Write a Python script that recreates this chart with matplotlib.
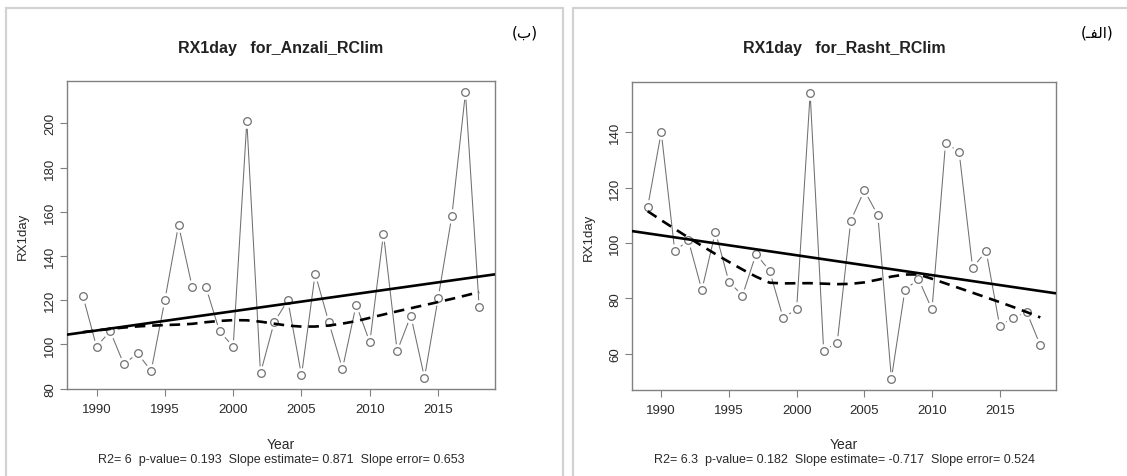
import numpy as np
import matplotlib
matplotlib.use("Agg")
import matplotlib.pyplot as plt
from matplotlib.patches import Rectangle

plt.rcParams['font.family'] = ['Liberation Sans', 'DejaVu Sans']

years = list(range(1989, 2019))
anzali = [122, 99, 106, 91, 96, 88, 120, 154, 126, 126, 106, 99, 201, 87, 110,
          120, 86, 132, 110, 89, 118, 101, 150, 97, 113, 85, 121, 158, 214, 117]
rasht = [113, 140, 97, 101, 83, 104, 86, 81, 96, 90, 73, 76, 154, 61, 64,
         108, 119, 110, 51, 83, 87, 76, 136, 133, 91, 97, 70, 73, 75, 63]

titles = ["RX1day   for_Anzali_RClim", "RX1day   for_Rasht_RClim"]
stats = ["R2= 6  p-value= 0.193  Slope estimate= 0.871  Slope error= 0.653",
         "R2= 6.3  p-value= 0.182  Slope estimate= -0.717  Slope error= 0.524"]
panel_tags = ["(\uFE8F)", "(\u0640\uFED4\uFEDF\uFE8D)"]
yticks_list = [[80, 100, 120, 140, 160, 180, 200], [60, 80, 100, 120, 140]]
xticks = [1990, 1995, 2000, 2005, 2010, 2015]


def lowess(x, y, f=2/3, niter=3):
    x = np.asarray(x, float); y = np.asarray(y, float)
    n = len(x)
    ns = max(min(int(f * n + 1e-7), n), 2)
    rng = x[-1] - x[0]
    rw = np.ones(n)
    ys = np.zeros(n)
    for it in range(niter + 1):
        nleft, nright = 0, ns - 1
        for i in range(n):
            xs = x[i]
            while nright < n - 1:
                d1 = xs - x[nleft]
                d2 = x[nright + 1] - xs
                if d1 <= d2:
                    break
                nleft += 1; nright += 1
            h = max(xs - x[nleft], x[nright] - xs)
            h9, h1 = 0.999 * h, 0.001 * h
            w = np.zeros(n)
            j = nleft
            while j < n:
                r = abs(x[j] - xs)
                if r <= h9:
                    if r <= h1:
                        w[j] = rw[j]
                    else:
                        w[j] = rw[j] * (1 - (r / h) ** 3) ** 3
                elif x[j] > xs:
                    break
                j += 1
            s = w.sum()
            if s <= 0:
                ys[i] = y[i]; continue
            w = w / s
            if h > 0:
                a = (w * x).sum()
                b = xs - a
                c = (w * (x - a) ** 2).sum()
                if np.sqrt(c) > 0.001 * rng:
                    b = b / c
                    w = w * (b * (x - a) + 1.0)
            ys[i] = (w * y).sum()
        if it == niter:
            break
        res = y - ys
        cmad = 6 * np.median(np.abs(res))
        if cmad < 1e-7 * np.mean(np.abs(res)):
            break
        r = np.abs(res)
        rw = np.where(r <= 0.001 * cmad, 1.0,
                      np.where(r <= 0.999 * cmad, (1 - (r / cmad) ** 2) ** 2, 0.0))
    return ys


fig = plt.figure(figsize=(11.27, 4.77), dpi=100)
W, H = 1127, 477

# panel frames
for (x0, x1) in [(6, 563), (573, 1140)]:
    fig.patches.append(Rectangle((x0 / W, -0.1), (x1 - x0) / W, (H - 9) / H + 0.1,
                                 transform=fig.transFigure, fill=False,
                                 edgecolor='#d2d2d2', linewidth=1.6))

axes_px = [(67, 495, 82, 390), (632, 1056, 83, 391)]
ylabel_x = [23, 589]
tag_x = [525, 1097]
grey = '#808080'

for k, series in enumerate([anzali, rasht]):
    l, r, t, b = axes_px[k]
    ax = fig.add_axes([l / W, (H - b) / H, (r - l) / W, (b - t) / H])
    x = np.array(years, float); y = np.array(series, float)
    xr = x.max() - x.min(); yr = y.max() - y.min()
    ax.set_xlim(x.min() - 0.04 * xr, x.max() + 0.04 * xr)
    ax.set_ylim(y.min() - 0.04 * yr, y.max() + 0.04 * yr)

    ax.plot(x, y, color='#707070', lw=0.75, zorder=2)
    ax.plot(x, y, 'o', ms=9.5, mfc='white', mec='white', zorder=3)
    ax.plot(x, y, 'o', ms=5.5, mfc='white', mec='#707070', mew=0.9, zorder=4)

    slope, icpt = np.polyfit(x, y, 1)
    xl = np.array(ax.get_xlim())
    ax.plot(xl, icpt + slope * xl, color='black', lw=1.9, zorder=5, solid_capstyle='butt')
    ax.plot(x, lowess(x, y), color='black', lw=1.9, ls=(0, (4, 2.6)), zorder=5)

    ax.set_xticks(xticks)
    ax.set_yticks(yticks_list[k])
    ax.set_yticklabels([str(v) for v in yticks_list[k]], rotation=90, va='center')
    ax.tick_params(axis='both', direction='out', length=5, width=0.8, color=grey,
                   labelsize=9.5, labelcolor='#2a2a2a', pad=3)
    ax.tick_params(axis='x', pad=5)
    for sp in ax.spines.values():
        sp.set_color(grey); sp.set_linewidth(1.0)

    cx = (l + r) / 2 / W
    fig.text(cx, 1 - 48 / H, titles[k], ha='center', va='center',
             fontsize=11.5, fontweight='bold', color='#222222')
    fig.text(cx, 1 - 445 / H, "Year", ha='center', va='center', fontsize=10, color='#2a2a2a')
    fig.text(cx, 1 - 460 / H, stats[k], ha='center', va='center', fontsize=9, color='#2a2a2a')
    fig.text(ylabel_x[k] / W, 1 - (t + b) / 2 / H, "RX1day", rotation=90,
             ha='center', va='center', fontsize=9.5, color='#2a2a2a')
    fig.text(tag_x[k] / W, 1 - 33 / H, panel_tags[k], ha='center', va='center',
             fontsize=11, family=['DejaVu Sans'], color='black')

fig.savefig('out.png', dpi=100)
